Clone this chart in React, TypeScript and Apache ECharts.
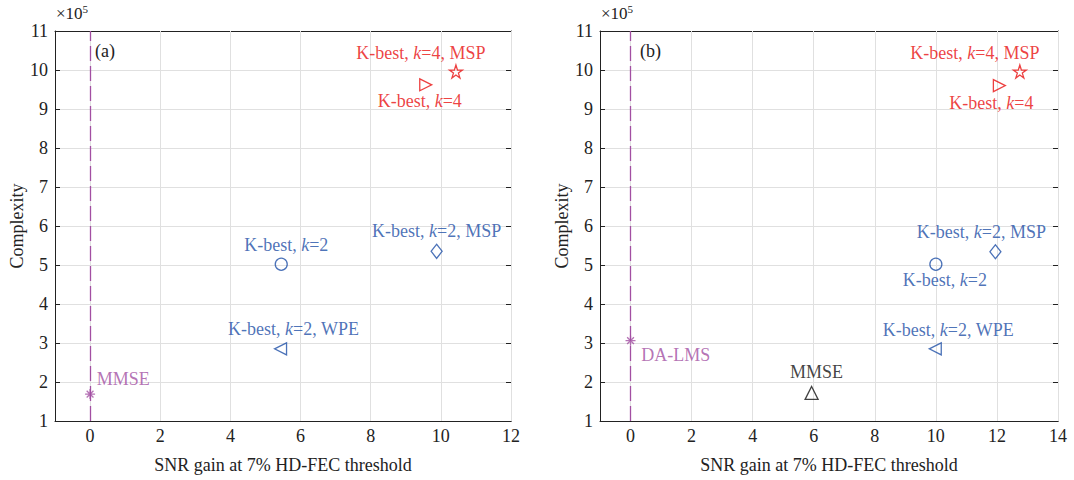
import React, { useEffect, useRef } from 'react';
import * as echarts from 'echarts';

// ---- data (complexity in units of 1e5) ----
const methodsA = ['MMSE', 'K-best, k=2', 'K-best, k=2, WPE', 'K-best, k=2, MSP', 'K-best, k=4', 'K-best, k=4, MSP'];
const snrGainA = [0, 5.45, 5.43, 9.88, 9.57, 10.43];
const complexityA = [1.69, 5.02, 2.85, 5.35, 9.62, 9.96];

const methodsB = ['DA-LMS', 'MMSE', 'K-best, k=2', 'K-best, k=2, WPE', 'K-best, k=2, MSP', 'K-best, k=4', 'K-best, k=4, MSP'];
const snrGainB = [0, 5.93, 10.0, 9.98, 11.95, 12.08, 12.75];
const complexityB = [3.06, 1.72, 5.02, 2.85, 5.34, 9.6, 9.96];

const xTicksA = [0, 2, 4, 6, 8, 10, 12];
const xTicksB = [0, 2, 4, 6, 8, 10, 12, 14];
const baselineX = [0];

const FONT = '"Liberation Serif", "Times New Roman", serif';
const FS = 18;
const AXIS = '#222222';
const GRIDC = '#e0e0e0';
const PURPLE = '#A24FA2';
const BLUE = '#1E4FA6';
const RED = '#E81010';
const BLACK = '#111111';

const STAR = 'path://M50,0 L61.23,34.55 L97.55,34.55 L68.16,55.9 L79.39,90.45 L50,69.1 L20.61,90.45 L31.84,55.9 L2.45,34.55 L38.77,34.55 Z';
const ASTER = 'path://M50,0 L50,100 M0,50 L100,50 M16,16 L84,84 M84,16 L16,84';
const TRI_L = 'path://M0,50 L100,0 L100,100 Z';
const TRI_R = 'path://M100,50 L0,0 L0,100 Z';

type Sty = { symbol: string; size: number | number[]; color: string; pos: string; offset: number[] };

const styleA: Record<string, Sty> = {
  'MMSE': { symbol: ASTER, size: 10, color: PURPLE, pos: 'right', offset: [-4, -15] },
  'K-best, k=2': { symbol: 'circle', size: 12, color: BLUE, pos: 'inside', offset: [5, -19] },
  'K-best, k=2, WPE': { symbol: TRI_L, size: 12, color: BLUE, pos: 'inside', offset: [13, -20] },
  'K-best, k=2, MSP': { symbol: 'diamond', size: [11, 14], color: BLUE, pos: 'inside', offset: [0, -20] },
  'K-best, k=4': { symbol: TRI_R, size: 12, color: RED, pos: 'inside', offset: [-6, 16] },
  'K-best, k=4, MSP': { symbol: STAR, size: 13, color: RED, pos: 'inside', offset: [-35, -19] },
};
const styleB: Record<string, Sty> = {
  'DA-LMS': { symbol: ASTER, size: 10, color: PURPLE, pos: 'right', offset: [0, 14] },
  'MMSE': { symbol: 'triangle', size: 13, color: BLACK, pos: 'inside', offset: [5, -21] },
  'K-best, k=2': { symbol: 'circle', size: 12, color: BLUE, pos: 'inside', offset: [9, 16] },
  'K-best, k=2, WPE': { symbol: TRI_L, size: 12, color: BLUE, pos: 'inside', offset: [13, -19] },
  'K-best, k=2, MSP': { symbol: 'diamond', size: [11, 14], color: BLUE, pos: 'inside', offset: [-14, -20] },
  'K-best, k=4': { symbol: TRI_R, size: 12, color: RED, pos: 'inside', offset: [-8, 17] },
  'K-best, k=4, MSP': { symbol: STAR, size: 13, color: RED, pos: 'inside', offset: [-45, -19] },
};

function buildData(names: string[], xs: number[], ys: number[], sty: Record<string, Sty>) {
  return names.map((n, i) => {
    const s = sty[n];
    return {
      name: n,
      value: [xs[i], ys[i]],
      symbol: s.symbol,
      symbolSize: s.size,
      itemStyle: { color: 'rgba(0,0,0,0)', borderColor: s.color, borderWidth: 1.3 },
      label: {
        show: true,
        position: s.pos,
        offset: s.offset,
        formatter: n.replace('k=', '{i|k}='),
        color: s.color,
        fontFamily: FONT,
        fontSize: FS,
        rich: { i: { fontStyle: 'italic', fontFamily: FONT, fontSize: FS, color: s.color } },
      },
    };
  });
}

function xAxes(gridIndex: number, max: number, ticks: number[]) {
  const common = {
    gridIndex,
    type: 'value',
    min: -1,
    max,
    splitLine: { show: false },
    axisLine: { show: true, onZero: false, lineStyle: { color: AXIS, width: 1 } },
    axisTick: { show: true, inside: true, length: 5, customValues: ticks, lineStyle: { color: AXIS } },
  };
  return [
    {
      ...common,
      position: 'bottom',
      axisLabel: { customValues: ticks, fontFamily: FONT, fontSize: FS, color: AXIS, margin: 6 },
      name: 'SNR gain at 7% HD-FEC threshold',
      nameLocation: 'middle',
      nameGap: 35,
      nameTextStyle: { fontFamily: FONT, fontSize: FS, color: AXIS },
    },
    { ...common, position: 'top', axisLabel: { show: false } },
  ];
}

function yAxes(gridIndex: number) {
  const common = {
    gridIndex,
    type: 'value',
    min: 1,
    max: 11,
    interval: 1,
    axisLine: { show: true, onZero: false, lineStyle: { color: AXIS, width: 1 } },
    axisTick: { show: true, inside: true, length: 5, lineStyle: { color: AXIS } },
  };
  return [
    {
      ...common,
      position: 'left',
      splitLine: { show: true, lineStyle: { color: GRIDC, width: 1 } },
      axisLabel: { fontFamily: FONT, fontSize: FS, color: AXIS, margin: 7 },
      name: 'Complexity',
      nameLocation: 'middle',
      nameRotate: 90,
      nameGap: 29,
      nameTextStyle: { fontFamily: FONT, fontSize: FS, color: AXIS },
    },
    { ...common, position: 'right', splitLine: { show: false }, axisLabel: { show: false } },
  ];
}

function gridSeries(xAxisIndex: number, yAxisIndex: number, ticks: number[]) {
  return {
    type: 'scatter',
    xAxisIndex,
    yAxisIndex,
    data: [],
    silent: true,
    z: 1,
    markLine: {
      silent: true,
      symbol: ['none', 'none'],
      label: { show: false },
      lineStyle: { color: GRIDC, type: 'solid', width: 1 },
      data: ticks.map((v) => ({ xAxis: v })),
    },
  };
}

function baseSeries(xAxisIndex: number, yAxisIndex: number) {
  return {
    type: 'scatter',
    xAxisIndex,
    yAxisIndex,
    data: [],
    silent: true,
    z: 2,
    markLine: {
      silent: true,
      symbol: ['none', 'none'],
      label: { show: false },
      lineStyle: { color: PURPLE, type: [15, 5], width: 1.3 },
      data: baselineX.map((v) => ({ xAxis: v })),
    },
  };
}

function cornerTexts(left: number, tag: string, tagLeft: number) {
  return [
    {
      type: 'text',
      left: left,
      top: 3,
      style: {
        text: '×10{s|5}',
        fontFamily: FONT,
        fontSize: 17,
        fill: AXIS,
        rich: { s: { fontSize: 11, verticalAlign: 'top', padding: [0, 0, 9, 0], fontFamily: FONT, fill: AXIS } },
      },
    },
    {
      type: 'text',
      left: tagLeft,
      top: 42,
      style: { text: tag, fontFamily: FONT, fontSize: FS, fill: AXIS },
    },
  ];
}

export default function App() {
  const ref = useRef<HTMLDivElement>(null);
  useEffect(() => {
    if (!ref.current) return;
    const chart = echarts.init(ref.current, null, { renderer: 'svg' });
    const option: any = {
      animation: false,
      backgroundColor: '#ffffff',
      textStyle: { fontFamily: FONT },
      grid: [
        { left: 55, top: 31, width: 456, height: 390 },
        { left: 600, top: 31, width: 458, height: 390 },
      ],
      xAxis: [...xAxes(0, 12, xTicksA), ...xAxes(1, 14, xTicksB)],
      yAxis: [...yAxes(0), ...yAxes(1)],
      series: [
        gridSeries(0, 0, xTicksA),
        gridSeries(2, 2, xTicksB),
        baseSeries(0, 0),
        baseSeries(2, 2),
        {
          type: 'scatter',
          xAxisIndex: 0,
          yAxisIndex: 0,
          z: 5,
          data: buildData(methodsA, snrGainA, complexityA, styleA),
        },
        {
          type: 'scatter',
          xAxisIndex: 2,
          yAxisIndex: 2,
          z: 5,
          data: buildData(methodsB, snrGainB, complexityB, styleB),
        },
      ],
      graphic: [...cornerTexts(56, '(a)', 95), ...cornerTexts(601, '(b)', 640)],
    };
    chart.setOption(option);
    return () => chart.dispose();
  }, []);
  return (
    <div
      ref={ref}
      style={{ position: 'fixed', left: 0, top: 0, width: 1074, height: 480, background: '#fff' }}
    />
  );
}
